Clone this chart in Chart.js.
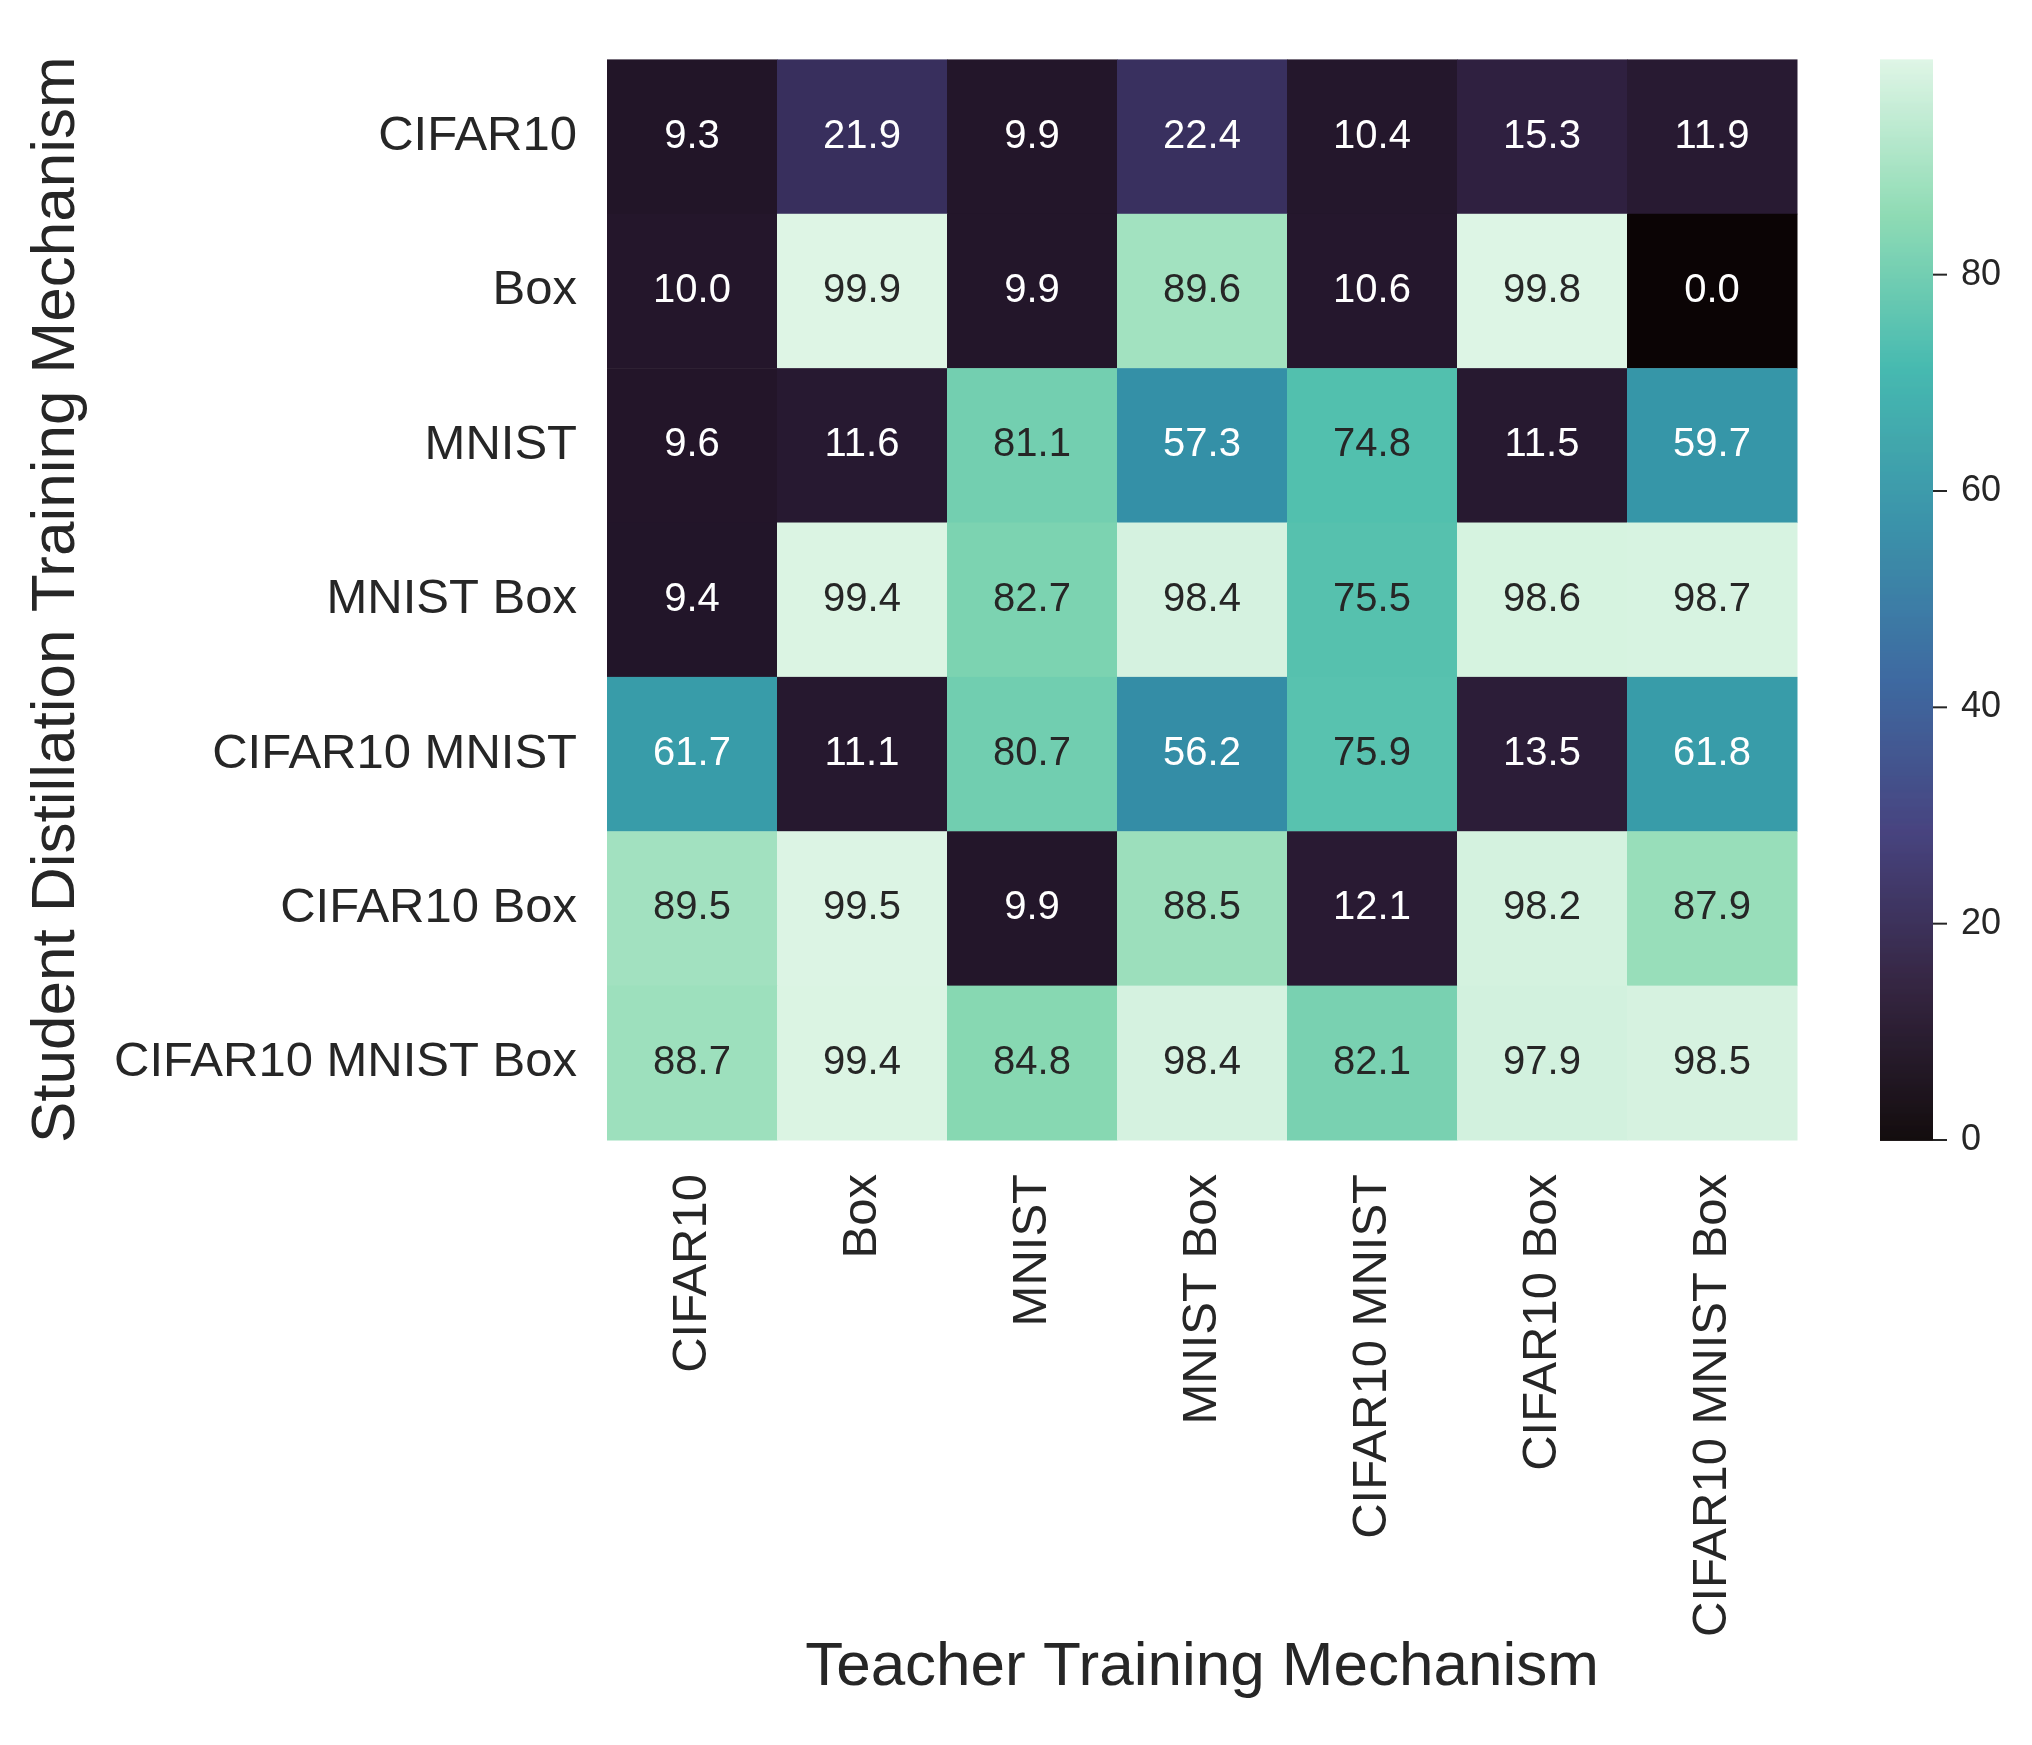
<!DOCTYPE html>
<html><head><meta charset="utf-8">
<script src="https://cdn.jsdelivr.net/npm/chart.js@4"></script>
<style>html,body{margin:0;background:#fff}#wrap{width:2032px;height:1745px}</style>
</head><body><div id="wrap"><canvas id="c"></canvas></div>
<script>
const teachers = ['CIFAR10', 'Box', 'MNIST', 'MNIST Box', 'CIFAR10 MNIST', 'CIFAR10 Box', 'CIFAR10 MNIST Box'];
const students = ['CIFAR10', 'Box', 'MNIST', 'MNIST Box', 'CIFAR10 MNIST', 'CIFAR10 Box', 'CIFAR10 MNIST Box'];
const rowCifar10 = [9.3, 21.9, 9.9, 22.4, 10.4, 15.3, 11.9];
const rowBox = [10.0, 99.9, 9.9, 89.6, 10.6, 99.8, 0.0];
const rowMnist = [9.6, 11.6, 81.1, 57.3, 74.8, 11.5, 59.7];
const rowMnistBox = [9.4, 99.4, 82.7, 98.4, 75.5, 98.6, 98.7];
const rowCifarMnist = [61.7, 11.1, 80.7, 56.2, 75.9, 13.5, 61.8];
const rowCifarBox = [89.5, 99.5, 9.9, 88.5, 12.1, 98.2, 87.9];
const rowAll = [88.7, 99.4, 84.8, 98.4, 82.1, 97.9, 98.5];
const rows = [rowCifar10, rowBox, rowMnist, rowMnistBox, rowCifarMnist, rowCifarBox, rowAll];
const cbTicks = [0, 20, 40, 60, 80];
const vmin = 0, vmax = 99.9;

// mako approximation
const stops = [[0,'#0b0405'],[0.143,'#2e1e3b'],[0.286,'#413d7b'],[0.429,'#37659e'],[0.571,'#348fa7'],[0.714,'#40b7ad'],[0.857,'#8bdab2'],[1,'#def5e5']];
const hex = h => [1,3,5].map(i => parseInt(h.substr(i,2),16));
function mako(t) {
  t = Math.max(0, Math.min(1, t));
  for (let i = 1; i < stops.length; i++) {
    if (t <= stops[i][0]) {
      const a = stops[i-1], b = stops[i], f = (t - a[0]) / (b[0] - a[0]);
      const ca = hex(a[1]), cb = hex(b[1]);
      return ca.map((v, k) => Math.round(v + (cb[k] - v) * f));
    }
  }
  return hex(stops[stops.length-1][1]);
}
const rgb = c => `rgb(${c[0]},${c[1]},${c[2]})`;
const lum = c => { const l = c.map(v => { v /= 255; return v <= 0.03928 ? v/12.92 : Math.pow((v+0.055)/1.055, 2.4); }); return 0.2126*l[0]+0.7152*l[1]+0.0722*l[2]; };

const FONT = 'Liberation Sans, Arial, sans-serif';

const heatmap = {
  id: 'heatmap',
  afterDatasetsDraw(chart) {
    const {ctx, scales: {x, y}, chartArea: a} = chart;
    const cw = (a.right - a.left) / teachers.length, ch = (a.bottom - a.top) / students.length;
    ctx.save();
    rows.forEach((row, r) => row.forEach((v, c) => {
      const cx = x.getPixelForValue(c), cy = y.getPixelForValue(r);
      const col = mako((v - vmin) / (vmax - vmin));
      ctx.fillStyle = rgb(col);
      ctx.fillRect(cx - cw/2, cy - ch/2, cw + 0.5, ch + 0.5);
      ctx.fillStyle = lum(col) > 0.408 ? '#262626' : '#ffffff';
      ctx.font = `40px ${FONT}`;
      ctx.textAlign = 'center'; ctx.textBaseline = 'middle';
      ctx.fillText(v.toFixed(1), cx, cy);
    }));
    // colorbar
    const bx = 1880, bw = 53, top = a.top, bot = a.bottom;
    for (let py = top; py < bot; py++) {
      const t = 1 - (py - top) / (bot - top);
      ctx.fillStyle = rgb(mako(t));
      ctx.fillRect(bx, py, bw, 1.5);
    }
    ctx.strokeStyle = '#262626'; ctx.lineWidth = 2;
    ctx.fillStyle = '#262626'; ctx.font = `36px ${FONT}`;
    ctx.textAlign = 'left'; ctx.textBaseline = 'middle';
    cbTicks.forEach(tv => {
      const py = bot - (tv - vmin) / (vmax - vmin) * (bot - top);
      ctx.beginPath(); ctx.moveTo(bx + bw, py); ctx.lineTo(bx + bw + 14, py); ctx.stroke();
      ctx.fillText(String(tv), bx + bw + 28, py);
    });
    ctx.restore();
  }
};

new Chart(document.getElementById('c'), {
  type: 'scatter',
  data: { datasets: [{ data: [], pointRadius: 0 }] },
  options: {
    responsive: true, maintainAspectRatio: false, animation: false,
    layout: { padding: { top: 3, right: 235, left: 0, bottom: 0 } },
    plugins: { legend: { display: false }, tooltip: { enabled: false } },
    scales: {
      x: {
        type: 'linear', min: -0.5, max: teachers.length - 0.5,
        afterBuildTicks: s => { s.ticks = teachers.map((_, i) => ({ value: i })); },
        afterFit: s => { s.height = 1745 - 1140; },
        grid: { display: false, drawTicks: false }, border: { display: false },
        ticks: { callback: v => teachers[v], maxRotation: 90, minRotation: 90, autoSkip: false, padding: 34, color: '#262626', font: { size: 49, family: FONT } },
        title: { display: true, text: 'Teacher Training Mechanism', color: '#262626', font: { size: 62, family: FONT }, padding: { top: 18, bottom: 40 } }
      },
      y: {
        type: 'linear', min: -0.5, max: students.length - 0.5, reverse: true,
        afterBuildTicks: s => { s.ticks = students.map((_, i) => ({ value: i })); },
        afterFit: s => { s.width = 607; },
        grid: { display: false, drawTicks: false }, border: { display: false },
        ticks: { callback: v => students[v], autoSkip: false, padding: 30, color: '#262626', font: { size: 49, family: FONT } },
        title: { display: true, text: 'Student Distillation Training Mechanism', color: '#262626', font: { size: 62, family: FONT }, padding: { top: 20, bottom: 10 } }
      }
    }
  },
  plugins: [heatmap]
});
</script></body></html>
